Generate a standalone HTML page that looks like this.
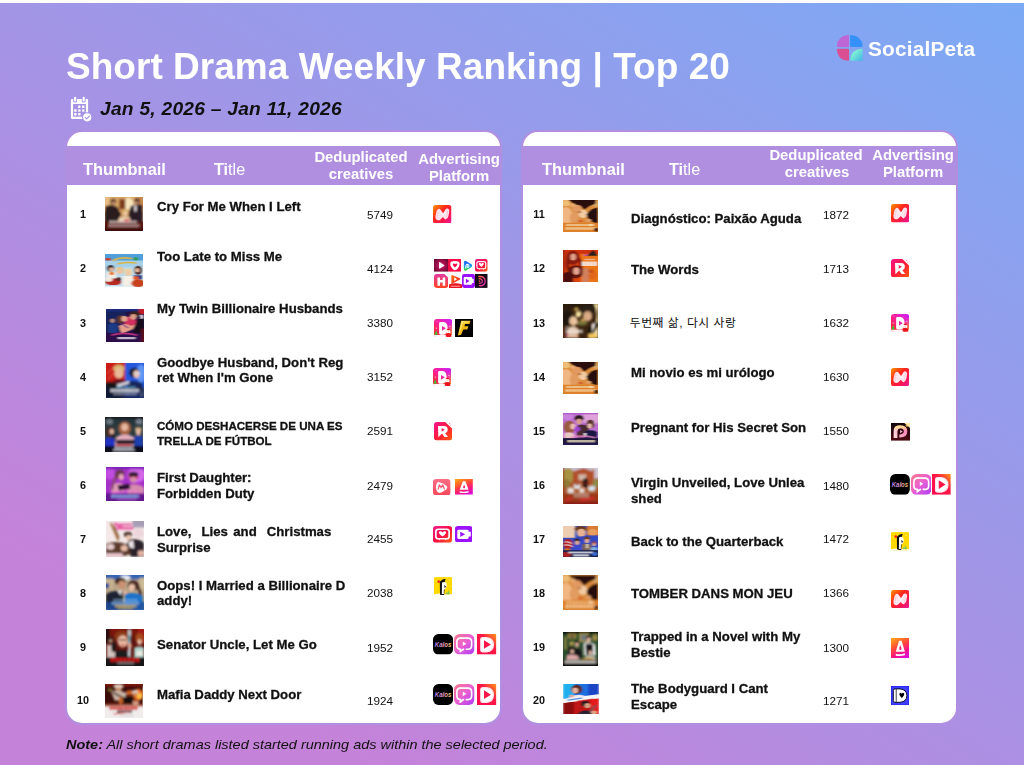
<!DOCTYPE html>
<html lang="en"><head><meta charset="utf-8"><title>Short Drama Weekly Ranking | Top 20</title>
<style>
html,body{margin:0;padding:0;}
body{width:1024px;height:765px;overflow:hidden;background:#fff;font-family:"Liberation Sans",sans-serif;}
#pg{position:absolute;left:0;top:0;width:1024px;height:765px;overflow:hidden;
 background:linear-gradient(31deg,#c582d9 16%,#7baaf5 100%);}
#topline{position:absolute;left:0;top:0;width:1024px;height:3px;background:#fff;}
.t{position:absolute;white-space:nowrap;font-family:"Liberation Sans",sans-serif;will-change:transform;}
.b{font-weight:700;} .i{font-style:italic;} .bi{font-weight:700;font-style:italic;}
.w{color:#fff;} .k{color:#111;}
.ts{-webkit-text-stroke:0.35px #fff;}
.hv{-webkit-text-stroke:0.3px #111;}
.card{position:absolute;top:130.2px;width:432.4px;height:590.4px;border:2.5px solid #b08fe1;border-radius:17px;background:#fff;overflow:hidden;}
.band{position:absolute;left:0;top:13.6px;width:100%;height:39.5px;background:#b08fe1;}
.th{position:absolute;overflow:hidden;}
.th svg{display:block;width:100%;height:100%;}
.ic{position:absolute;overflow:hidden;}
.ic svg{display:block;width:100%;height:100%;}
</style></head><body>
<div id="pg">
<div id="topline"></div>
<div class="t b w" style="left:66.20px;top:48.17px;font-size:37.0px;line-height:37.0px;letter-spacing:0.03px;">Short Drama Weekly Ranking | Top 20</div>
<div class="t bi k" style="left:100.00px;top:99.24px;font-size:19.2px;line-height:19.2px;letter-spacing:0.25px;">Jan 5, 2026 &ndash; Jan 11, 2026</div>
<div class="t b w" style="left:868.40px;top:38.69px;font-size:20.8px;line-height:20.8px;letter-spacing:0.2px;">SocialPeta</div>
<div class="t i k" style="left:66.40px;top:738.70px;font-size:12.4px;line-height:12.4px;transform-origin:0 50%;transform:scaleX(1.167);"><b>Note:</b> All short dramas listed started running ads within the selected period.</div>
<div class="card" style="left:65.4px;"><div class="band"></div></div>
<div class="card" style="left:521.3px;"><div class="band"></div></div>
<div class="t b w" style="left:83.10px;top:160.51px;font-size:16.4px;line-height:16.4px;">Thumbnail</div>
<div class="t w" style="left:213.60px;top:161.08px;font-size:16.2px;line-height:16.2px;"><b>Ti</b>tle</div>
<div class="t b w c" style="left:260.70px;top:150.03px;font-size:14.85px;line-height:14.85px;width:200px;text-align:center;">Deduplicated</div>
<div class="t b w c" style="left:261.00px;top:166.83px;font-size:14.85px;line-height:14.85px;width:200px;text-align:center;">creatives</div>
<div class="t b w c" style="left:358.50px;top:152.43px;font-size:14.85px;line-height:14.85px;width:200px;text-align:center;">Advertising</div>
<div class="t b w c" style="left:358.60px;top:169.43px;font-size:14.85px;line-height:14.85px;width:200px;text-align:center;">Platform</div>
<div class="t b w" style="left:542.00px;top:160.51px;font-size:16.4px;line-height:16.4px;">Thumbnail</div>
<div class="t w" style="left:669.30px;top:161.08px;font-size:16.2px;line-height:16.2px;"><b>Ti</b>tle</div>
<div class="t b w c" style="left:716.20px;top:147.93px;font-size:14.85px;line-height:14.85px;width:200px;text-align:center;">Deduplicated</div>
<div class="t b w c" style="left:716.50px;top:165.43px;font-size:14.85px;line-height:14.85px;width:200px;text-align:center;">creatives</div>
<div class="t b w c" style="left:812.70px;top:147.93px;font-size:14.85px;line-height:14.85px;width:200px;text-align:center;">Advertising</div>
<div class="t b w c" style="left:812.80px;top:165.43px;font-size:14.85px;line-height:14.85px;width:200px;text-align:center;">Platform</div>
<div class="t b k c" style="left:62.60px;top:208.86px;font-size:10.8px;line-height:10.8px;width:40px;text-align:center;">1</div>
<div class="th" id="th1" style="left:105.4px;top:197.1px;width:37.60px;height:34.30px;"><svg viewBox="0 0 100 100" preserveAspectRatio="none"><rect width="100" height="100" fill="#b8824e"/><g filter="url(#tb)"><rect x="-12" y="-12" width="124" height="52" fill="#d9a667"/><ellipse cx="62" cy="20" rx="14" ry="18" fill="#f7e4bc"/><rect x="38" y="6" width="16" height="30" fill="#7c3b1d"/><rect x="-12" y="-12" width="24" height="42" fill="#e8bd84"/><rect x="86" y="-12" width="26" height="42" fill="#c98a52"/><path d="M0 28 Q14 18 34 30 L42 52 L30 78 L0 80Z" fill="#2a1a1b"/><ellipse cx="22" cy="14" rx="8" ry="9" fill="#5b3a2b"/><ellipse cx="23" cy="18" rx="5" ry="5" fill="#c79675"/><path d="M100 24 Q84 16 68 28 L62 50 L72 80 L100 80Z" fill="#2b1c27"/><ellipse cx="85" cy="12" rx="7" ry="8" fill="#3a241e"/><ellipse cx="84" cy="17" rx="4.5" ry="5" fill="#c4906e"/><rect x="78" y="24" width="6" height="18" fill="#ece6e6"/><ellipse cx="54" cy="46" rx="9" ry="11" fill="#dcae6b"/><ellipse cx="54" cy="48" rx="5" ry="6" fill="#f0cfae"/><ellipse cx="52" cy="66" rx="16" ry="9" fill="#eccfb2"/><rect x="-12" y="72" width="124" height="40" fill="#56130f"/><ellipse cx="58" cy="70" rx="8" ry="5" fill="#c01822"/><path d="M12 72.5 H86" stroke="#f3e8e6" stroke-width="7" stroke-dasharray="7 2" opacity="0.8" fill="none"/><path d="M10 83.5 H92" stroke="#ecdedc" stroke-width="7" stroke-dasharray="6 2" opacity="0.75" fill="none"/><rect x="-12" y="92" width="124" height="20" fill="#3c0d0b"/></g></svg></div>
<div class="t b k hv" style="left:156.60px;top:198.97px;font-size:13.2px;line-height:15.5px;">Cry For Me When I Left</div>
<div class="t k c" style="left:350.40px;top:209.09px;font-size:11.7px;line-height:11.7px;width:60px;text-align:center;">5749</div>
<div class="t b k c" style="left:62.60px;top:263.11px;font-size:10.8px;line-height:10.8px;width:40px;text-align:center;">2</div>
<div class="th" id="th2" style="left:105.4px;top:254.4px;width:37.60px;height:32.40px;"><svg viewBox="0 0 100 100" preserveAspectRatio="none"><rect width="100" height="100" fill="#bcd9ea"/><g filter="url(#tb)"><rect x="-12" y="-12" width="124" height="34" fill="#4f9fda"/><rect x="-12" y="20" width="124" height="20" fill="#a6d1ea"/><ellipse cx="8" cy="16" rx="9" ry="4" fill="#c53b23"/><ellipse cx="82" cy="15" rx="7" ry="5" fill="#2f9a3c"/><path d="M22 20 Q40 8 70 14 M34 30 Q60 24 82 28" fill="none" stroke="#d8b443" stroke-width="5" stroke-linecap="round"/><ellipse cx="15" cy="44" rx="9" ry="10" fill="#3c2a26"/><ellipse cx="17" cy="48" rx="6" ry="7" fill="#e6b79a"/><rect x="4" y="56" width="26" height="18" fill="#f3ece4"/><ellipse cx="18" cy="60" rx="7" ry="5" fill="#e57c2c"/><ellipse cx="40" cy="50" rx="10" ry="11" fill="#e6c58c"/><ellipse cx="40" cy="53" rx="6.5" ry="7" fill="#eec3a4"/><ellipse cx="62" cy="56" rx="10" ry="11" fill="#ecd4a0"/><ellipse cx="62" cy="59" rx="6" ry="7" fill="#f0c6aa"/><rect x="46" y="68" width="40" height="30" fill="#f6efe6"/><ellipse cx="88" cy="50" rx="10" ry="14" fill="#4b2a22"/><ellipse cx="86" cy="50" rx="5.5" ry="7" fill="#e8b89e"/><rect x="76" y="66" width="22" height="12" fill="#1d2f7a"/><ellipse cx="22" cy="86" rx="22" ry="10" fill="#b82a22"/><ellipse cx="10" cy="78" rx="10" ry="8" fill="#f1e8e0"/><ellipse cx="36" cy="78" rx="7" ry="6" fill="#5a2a22"/><ellipse cx="88" cy="90" rx="18" ry="12" fill="#c7421e"/><ellipse cx="82" cy="74" rx="8" ry="6" fill="#e2562a"/></g></svg></div>
<div class="t b k hv" style="left:156.60px;top:249.42px;font-size:13.2px;line-height:15.5px;">Too Late to Miss Me</div>
<div class="t k c" style="left:350.40px;top:262.69px;font-size:11.7px;line-height:11.7px;width:60px;text-align:center;">4124</div>
<div class="t b k c" style="left:62.60px;top:317.61px;font-size:10.8px;line-height:10.8px;width:40px;text-align:center;">3</div>
<div class="th" id="th3" style="left:105.8px;top:309.1px;width:38.00px;height:32.50px;"><svg viewBox="0 0 100 100" preserveAspectRatio="none"><rect width="100" height="100" fill="#241046"/><g filter="url(#tb)"><rect x="-12" y="-12" width="64" height="82" fill="#19235c"/><rect x="-12" y="-12" width="124" height="20" fill="#1a2a78"/><rect x="86" y="-12" width="26" height="28" fill="#c21d2a"/><ellipse cx="17" cy="36" rx="6" ry="7" fill="#b98a7a"/><path d="M6 48 Q18 40 30 48 V78 H6Z" fill="#1f3a86"/><ellipse cx="64" cy="42" rx="16" ry="20" fill="#d2315f"/><ellipse cx="38" cy="32" rx="10" ry="13" fill="#5c342c"/><ellipse cx="48" cy="30" rx="8" ry="9" fill="#e3a68d"/><path d="M34 52 Q50 40 66 52 L84 44 L88 52 L60 68 L40 76 Z" fill="#e59f88"/><path d="M40 44 L58 58" fill="none" stroke="#6a2a8a" stroke-width="3" stroke-linecap="round"/><ellipse cx="76" cy="16" rx="15" ry="9" fill="#3b2320"/><ellipse cx="72" cy="24" rx="9" ry="9" fill="#dc9c84"/><path d="M100 22 L84 30 L72 60 L76 92 L100 92Z" fill="#17111a"/><rect x="90" y="18" width="8" height="12" fill="#e9e4ea"/><rect x="-12" y="74" width="124" height="38" fill="#2a0f48"/><rect x="92" y="60" width="20" height="52" fill="#5a0f1c"/><path d="M16 80 Q46 70 80 80" fill="none" stroke="#d83a8a" stroke-width="5" stroke-linecap="round" opacity="0.8"/><path d="M32 89.5 H78" stroke="#f2edf6" stroke-width="7" stroke-dasharray="6 1.5" opacity="0.9" fill="none"/></g></svg></div>
<div class="t b k hv" style="left:156.60px;top:301.17px;font-size:13.2px;line-height:15.5px;">My Twin Billionaire Husbands</div>
<div class="t k c" style="left:350.40px;top:316.89px;font-size:11.7px;line-height:11.7px;width:60px;text-align:center;">3380</div>
<div class="t b k c" style="left:62.60px;top:371.61px;font-size:10.8px;line-height:10.8px;width:40px;text-align:center;">4</div>
<div class="th" id="th4" style="left:105.7px;top:362.9px;width:38.10px;height:34.80px;"><svg viewBox="0 0 100 100" preserveAspectRatio="none"><rect width="100" height="100" fill="#1c2a58"/><g filter="url(#tb)"><rect x="-12" y="-12" width="62" height="70" fill="#c81b14"/><rect x="50" y="-12" width="62" height="124" fill="#2858de"/><ellipse cx="92" cy="30" rx="12" ry="26" fill="#5f95f4"/><ellipse cx="95" cy="84" rx="10" ry="14" fill="#bcd4fa"/><path d="M4 30 L22 10 M6 46 L20 30" fill="none" stroke="#ec6a5c" stroke-width="3" stroke-linecap="round" opacity="0.7"/><ellipse cx="34" cy="16" rx="15" ry="11" fill="#dab673"/><ellipse cx="34" cy="30" rx="12" ry="14" fill="#e9b997"/><path d="M18 52 Q34 42 54 52 V66 H18Z" fill="#5c1422"/><path d="M0 56 Q14 50 26 60 L40 100 H0Z" fill="#151517"/><ellipse cx="74" cy="28" rx="13" ry="14" fill="#191921"/><ellipse cx="80" cy="32" rx="8" ry="11" fill="#ebc3b3"/><rect x="72" y="27" width="18" height="4" fill="#dfe9f6" opacity="0.7"/><path d="M56 54 Q76 46 96 58 V84 H56Z" fill="#17285c"/><path d="M28 62 L60 52 L62 58 L32 70Z" fill="#d9dde6"/><rect x="-12" y="70" width="124" height="42" fill="#101a3e" opacity="0.75"/><path d="M12 79.0 H88" stroke="#eef0f6" stroke-width="8" stroke-dasharray="6 1.5" opacity="0.9" fill="none"/><path d="M20 88.5 H80" stroke="#cfd6ea" stroke-width="5" stroke-dasharray="5 2" opacity="0.75" fill="none"/><rect x="26" y="68" width="52" height="4" fill="#7ad1e6" opacity="0.7"/></g></svg></div>
<div class="t b k hv" style="left:156.60px;top:354.55px;font-size:13.2px;line-height:15.25px;">Goodbye Husband, Don't Reg<br>ret When I'm Gone</div>
<div class="t k c" style="left:350.40px;top:371.19px;font-size:11.7px;line-height:11.7px;width:60px;text-align:center;">3152</div>
<div class="t b k c" style="left:62.60px;top:425.86px;font-size:10.8px;line-height:10.8px;width:40px;text-align:center;">5</div>
<div class="th" id="th5" style="left:105.1px;top:417.2px;width:37.90px;height:34.40px;"><svg viewBox="0 0 100 100" preserveAspectRatio="none"><rect width="100" height="100" fill="#2b3a40"/><g filter="url(#tb)"><rect x="-12" y="-12" width="124" height="34" fill="#27343a"/><ellipse cx="12" cy="14" rx="9" ry="8" fill="#8b97a0" opacity="0.7"/><ellipse cx="90" cy="14" rx="9" ry="8" fill="#9aa0b0" opacity="0.7"/><rect x="-12" y="-12" width="124" height="17" fill="#10161a"/><ellipse cx="52" cy="34" rx="17" ry="20" fill="#a35f3d"/><ellipse cx="52" cy="30" rx="9" ry="11" fill="#e7b79f"/><path d="M30 58 Q52 44 76 58 L84 84 H26Z" fill="#e6b0c0"/><ellipse cx="14" cy="44" rx="12" ry="16" fill="#4a2a22"/><ellipse cx="18" cy="42" rx="6" ry="8" fill="#dfae98"/><path d="M0 62 Q12 56 26 64 V84 H0Z" fill="#2130c4"/><ellipse cx="22" cy="54" rx="6" ry="4" fill="#14141c"/><ellipse cx="88" cy="36" rx="9" ry="7" fill="#c9a777"/><ellipse cx="88" cy="44" rx="7" ry="9" fill="#e2b69e"/><path d="M76 58 Q88 50 100 58 V86 H76Z" fill="#1f3fb0"/><rect x="30" y="66" width="48" height="13" fill="#17171b" rx="2"/><rect x="-12" y="84" width="124" height="28" fill="#0e0f1f"/><rect x="30" y="80" width="40" height="4" fill="#e03a4a" opacity="0.8"/><path d="M26 89.5 H74" stroke="#eceff4" stroke-width="5" stroke-dasharray="6 1.5" opacity="0.92" fill="none"/><path d="M22 96.5 H78" stroke="#e4e7ee" stroke-width="5" stroke-dasharray="6 1.5" opacity="0.9" fill="none"/></g></svg></div>
<div class="t b k hv" style="left:156.60px;top:419.24px;font-size:11.58px;line-height:14.5px;">CÓMO DESHACERSE DE UNA ES<br>TRELLA DE FÚTBOL</div>
<div class="t k c" style="left:350.40px;top:425.39px;font-size:11.7px;line-height:11.7px;width:60px;text-align:center;">2591</div>
<div class="t b k c" style="left:62.60px;top:480.11px;font-size:10.8px;line-height:10.8px;width:40px;text-align:center;">6</div>
<div class="th" id="th6" style="left:105.7px;top:466.9px;width:38.10px;height:33.80px;"><svg viewBox="0 0 100 100" preserveAspectRatio="none"><rect width="100" height="100" fill="#a432c8"/><g filter="url(#tb)"><ellipse cx="80" cy="24" rx="24" ry="22" fill="#d467ea"/><ellipse cx="10" cy="20" rx="14" ry="18" fill="#c04ee0"/><rect x="-12" y="-12" width="124" height="18" fill="#7a22b8"/><ellipse cx="36" cy="22" rx="13" ry="14" fill="#68374e"/><ellipse cx="40" cy="30" rx="7" ry="9" fill="#e8a2ba"/><path d="M12 62 Q26 40 44 50 L48 74 H14Z" fill="#df9cb8"/><path d="M24 30 Q18 50 16 66" fill="none" stroke="#8b4a6a" stroke-width="6" stroke-linecap="round"/><ellipse cx="72" cy="22" rx="13" ry="8" fill="#2e1a2e"/><rect x="60" y="28" width="24" height="6" fill="#b3182f"/><ellipse cx="72" cy="38" rx="9" ry="9" fill="#d890aa"/><path d="M56 56 Q78 44 100 60 V80 H56Z" fill="#d58cae"/><path d="M30 54 L62 50 L64 64 L34 70Z" fill="#2b1032"/><rect x="-12" y="78" width="124" height="34" fill="#64188f"/><path d="M18 76 Q50 68 90 74" fill="none" stroke="#f07ad0" stroke-width="5" stroke-linecap="round" opacity="0.85"/><path d="M14 86.5 H86" stroke="#86b4ea" stroke-width="9" stroke-dasharray="7 1.5" opacity="0.92" fill="none"/><rect x="30" y="94" width="50" height="4" fill="#b86ad6" opacity="0.8"/></g></svg></div>
<div class="t b k hv" style="left:156.60px;top:470.05px;font-size:13.2px;line-height:15.75px;">First Daughter:<br>Forbidden Duty</div>
<div class="t k c" style="left:350.40px;top:479.79px;font-size:11.7px;line-height:11.7px;width:60px;text-align:center;">2479</div>
<div class="t b k c" style="left:62.60px;top:533.61px;font-size:10.8px;line-height:10.8px;width:40px;text-align:center;">7</div>
<div class="th" id="th7" style="left:105.9px;top:520.9px;width:37.90px;height:35.80px;"><svg viewBox="0 0 100 100" preserveAspectRatio="none"><rect width="100" height="100" fill="#f4e9e8"/><g filter="url(#tb)"><rect x="70" y="-12" width="42" height="30" fill="#a79db5"/><ellipse cx="86" cy="34" rx="14" ry="14" fill="#ecd5dc"/><path d="M24 8 L40 16 M30 20 L70 20" fill="none" stroke="#e85aa2" stroke-width="7" stroke-linecap="round"/><path d="M26 10 H66" fill="none" stroke="#ea62a8" stroke-width="6" stroke-linecap="round"/><path d="M14 8 L32 52" fill="none" stroke="#a57448" stroke-width="6" stroke-linecap="round"/><path d="M22 14 L34 46" fill="none" stroke="#7b4c2c" stroke-width="3" stroke-linecap="round"/><ellipse cx="58" cy="38" rx="11" ry="8" fill="#4a3029"/><ellipse cx="60" cy="47" rx="7" ry="8" fill="#efc7b2"/><path d="M62 52 Q86 46 100 62 V100 H66 L52 70Z" fill="#29242a"/><path d="M60 58 L72 54 L74 76 L62 74Z" fill="#f1e7ea"/><path d="M0 64 Q30 52 56 66 L66 92 L40 100 H0Z" fill="#5b3a2a"/><ellipse cx="48" cy="76" rx="9" ry="8" fill="#e9bda8"/><ellipse cx="12" cy="72" rx="10" ry="8" fill="#e8cfd0"/><rect x="-12" y="90" width="56" height="22" fill="#e9c9cf"/><ellipse cx="92" cy="90" rx="8" ry="8" fill="#e6b5a5"/></g></svg></div>
<div class="t b k hv" style="left:156.60px;top:523.67px;font-size:13.2px;line-height:15.5px;">Love,<span style="margin-left:6.4px"> </span>Lies<span style="margin-left:1.7px"> </span>and<span style="margin-left:6.4px"> </span>Christmas<br>Surprise</div>
<div class="t k c" style="left:350.40px;top:533.29px;font-size:11.7px;line-height:11.7px;width:60px;text-align:center;">2455</div>
<div class="t b k c" style="left:62.60px;top:587.86px;font-size:10.8px;line-height:10.8px;width:40px;text-align:center;">8</div>
<div class="th" id="th8" style="left:105.6px;top:575.1px;width:38.10px;height:34.60px;"><svg viewBox="0 0 100 100" preserveAspectRatio="none"><rect width="100" height="100" fill="#b9a487"/><g filter="url(#tb)"><rect x="-12" y="-12" width="124" height="24" fill="#3563b4"/><ellipse cx="50" cy="8" rx="14" ry="7" fill="#e9eef6"/><rect x="-12" y="10" width="30" height="30" fill="#c9b590"/><rect x="-12" y="24" width="20" height="14" fill="#2a4a9a"/><rect x="88" y="8" width="24" height="34" fill="#cdbb96"/><ellipse cx="38" cy="18" rx="14" ry="11" fill="#3a2519"/><ellipse cx="42" cy="28" rx="10" ry="12" fill="#c99273"/><path d="M0 56 Q20 40 44 50 L46 100 H0Z" fill="#1a2030"/><path d="M30 46 L40 44 L40 60Z" fill="#e9ecf2"/><ellipse cx="72" cy="30" rx="15" ry="15" fill="#4b2b21"/><ellipse cx="68" cy="36" rx="8" ry="10" fill="#ebc3ab"/><path d="M84 30 Q92 50 90 70" fill="none" stroke="#4a2a20" stroke-width="7" stroke-linecap="round"/><path d="M50 56 Q74 46 96 60 V100 H50Z" fill="#1a72ca"/><ellipse cx="50" cy="50" rx="5" ry="5" fill="#e2b39a"/><rect x="-12" y="78" width="124" height="34" fill="#1a4e9f" opacity="0.8"/><path d="M20 73.0 H84" stroke="#8fc0ee" stroke-width="6" stroke-dasharray="5 2" opacity="0.8" fill="none"/><path d="M16 82.0 H86" stroke="#a9cef2" stroke-width="6" stroke-dasharray="6 2" opacity="0.85" fill="none"/><path d="M24 90.0 H80" stroke="#dab657" stroke-width="6" stroke-dasharray="6 1.5" opacity="0.95" fill="none"/><path d="M32 96.5 H72" stroke="#d2ad4e" stroke-width="5" stroke-dasharray="5 1.5" opacity="0.9" fill="none"/></g></svg></div>
<div class="t b k hv" style="left:156.60px;top:578.17px;font-size:13.2px;line-height:15.0px;">Oops! I Married a Billionaire D<br>addy!</div>
<div class="t k c" style="left:350.40px;top:587.49px;font-size:11.7px;line-height:11.7px;width:60px;text-align:center;">2038</div>
<div class="t b k c" style="left:62.60px;top:641.86px;font-size:10.8px;line-height:10.8px;width:40px;text-align:center;">9</div>
<div class="th" id="th9" style="left:105.7px;top:629.4px;width:38.10px;height:36.30px;"><svg viewBox="0 0 100 100" preserveAspectRatio="none"><rect width="100" height="100" fill="#5e130f"/><g filter="url(#tb)"><rect x="-12" y="-12" width="124" height="32" fill="#7a1611"/><rect x="84" y="-12" width="28" height="52" fill="#a11a14"/><rect x="-12" y="-12" width="22" height="52" fill="#2a0a0a"/><ellipse cx="12" cy="30" rx="7" ry="8" fill="#3b2620"/><ellipse cx="12" cy="33" rx="4" ry="5" fill="#c49880"/><rect x="2" y="44" width="22" height="40" fill="#e9e1dc" opacity="0.85"/><ellipse cx="20" cy="50" rx="6" ry="14" fill="#1c1616"/><ellipse cx="42" cy="22" rx="20" ry="18" fill="#8b3a18"/><ellipse cx="44" cy="34" rx="13" ry="17" fill="#e9bba3"/><rect x="34" y="28" width="20" height="4" fill="#4a2a2a" opacity="0.7"/><ellipse cx="44" cy="44" rx="5" ry="2" fill="#b82a2a"/><path d="M24 62 Q44 54 62 64 V82 H24Z" fill="#1f1a1c"/><rect x="58" y="2" width="7" height="74" fill="#c9d3d8"/><rect x="59" y="18" width="5" height="18" fill="#2e8a90"/><ellipse cx="62" cy="46" rx="6" ry="7" fill="#d7a78f"/><ellipse cx="88" cy="26" rx="11" ry="14" fill="#a44c1b"/><ellipse cx="88" cy="36" rx="6" ry="8" fill="#e6b8a0"/><path d="M74 52 Q88 44 100 52 V80 H74Z" fill="#abd3cb"/><rect x="80" y="60" width="16" height="14" fill="#ece8e0"/><rect x="-12" y="78" width="124" height="34" fill="#181212"/><path d="M12 85.0 H88" stroke="#df1a1a" stroke-width="10" stroke-dasharray="9 2" opacity="0.95" fill="none"/><path d="M30 94.0 H74" stroke="#efe9e9" stroke-width="4" stroke-dasharray="4 1.5" opacity="0.85" fill="none"/></g></svg></div>
<div class="t b k hv" style="left:156.60px;top:637.42px;font-size:13.2px;line-height:15.5px;">Senator Uncle, Let Me Go</div>
<div class="t k c" style="left:350.40px;top:642.09px;font-size:11.7px;line-height:11.7px;width:60px;text-align:center;">1952</div>
<div class="t b k c" style="left:62.60px;top:695.36px;font-size:10.8px;line-height:10.8px;width:40px;text-align:center;">10</div>
<div class="th" id="th10" style="left:105.4px;top:684.2px;width:37.60px;height:33.40px;"><svg viewBox="0 0 100 100" preserveAspectRatio="none"><rect width="100" height="100" fill="#3a0d09"/><g filter="url(#tb)"><rect x="-12" y="-12" width="124" height="20" fill="#7a120c"/><ellipse cx="88" cy="32" rx="14" ry="18" fill="#e96d1b"/><ellipse cx="92" cy="36" rx="7" ry="9" fill="#f9c24c"/><ellipse cx="66" cy="26" rx="10" ry="8" fill="#c65a1c"/><ellipse cx="14" cy="18" rx="8" ry="5" fill="#8a8a30" opacity="0.7"/><ellipse cx="36" cy="8" rx="12" ry="6" fill="#ecdccb"/><ellipse cx="36" cy="17" rx="8" ry="7" fill="#c58a66"/><path d="M16 24 Q36 14 58 28 L52 48 L26 50Z" fill="#c9b4a4"/><path d="M22 26 L46 40" fill="none" stroke="#3a2a26" stroke-width="5" stroke-linecap="round"/><ellipse cx="80" cy="24" rx="8" ry="6" fill="#e7d8c9"/><ellipse cx="80" cy="30" rx="6" ry="5" fill="#c99070"/><rect x="40" y="40" width="40" height="22" fill="#161011" rx="4"/><ellipse cx="42" cy="50" rx="6" ry="12" fill="#e2762a" opacity="0.8"/><ellipse cx="82" cy="56" rx="8" ry="9" fill="#e9cbb8"/><ellipse cx="82" cy="50" rx="8" ry="5" fill="#b3542a"/><rect x="-12" y="64" width="124" height="48" fill="#f1eded"/><rect x="-12" y="58" width="124" height="10" fill="#b64a2a" opacity="0.55"/><path d="M12 72.5 H88" stroke="#d01a1a" stroke-width="9" stroke-dasharray="8 1.5" opacity="0.95" fill="none"/><path d="M32 82.5 H72" stroke="#1b1516" stroke-width="7" stroke-dasharray="7 1.5" opacity="0.95" fill="none"/><path d="M24 90 L66 84" fill="none" stroke="#d22020" stroke-width="3" stroke-linecap="round"/><rect x="38" y="93" width="38" height="2" fill="#8a8486" opacity="0.6"/></g></svg></div>
<div class="t b k hv" style="left:156.60px;top:687.17px;font-size:13.2px;line-height:15.5px;">Mafia Daddy Next Door</div>
<div class="t k c" style="left:350.40px;top:695.49px;font-size:11.7px;line-height:11.7px;width:60px;text-align:center;">1924</div>
<div class="t b k c" style="left:518.50px;top:208.86px;font-size:10.8px;line-height:10.8px;width:40px;text-align:center;">11</div>
<div class="th" id="th11" style="left:563.1px;top:200.3px;width:35.10px;height:31.60px;"><svg viewBox="0 0 100 100" preserveAspectRatio="none"><rect width="100" height="100" fill="#d98a3a"/><g filter="url(#tb)"><rect x="-12" y="-12" width="124" height="124" fill="#dc8d3c"/><ellipse cx="8" cy="10" rx="12" ry="10" fill="#eebd76"/><ellipse cx="8" cy="52" rx="20" ry="30" fill="#f0b783"/><ellipse cx="94" cy="12" rx="10" ry="10" fill="#d9a766"/><path d="M16 0 H94 L92 12 Q74 18 62 30 Q50 20 36 16 Q24 8 16 0Z" fill="#2a1009"/><ellipse cx="40" cy="27" rx="14" ry="12" fill="#e39a62"/><ellipse cx="28" cy="16" rx="8" ry="6" fill="#e9aa70"/><ellipse cx="57" cy="44" rx="13" ry="13" fill="#f2cba2"/><ellipse cx="47" cy="38" rx="6" ry="4" fill="#bf7f4d"/><ellipse cx="32" cy="56" rx="13" ry="19" fill="#e29b60"/><path d="M100 24 Q78 26 67 46 Q69 62 84 70 L100 76Z" fill="#26110b"/><ellipse cx="73" cy="64" rx="8" ry="5" fill="#e2a070"/><rect x="-12" y="72" width="124" height="40" fill="#dd8129"/><path d="M10 79.0 H90" stroke="#fbe8c2" stroke-width="6" stroke-dasharray="6 3" opacity="0.8" fill="none"/><path d="M8 90.0 H94" stroke="#fbe4b6" stroke-width="8" stroke-dasharray="7 3" opacity="0.85" fill="none"/><rect x="44" y="65" width="12" height="3" fill="#d22a2a"/><ellipse cx="95" cy="94" rx="6" ry="6" fill="#331710"/><ellipse cx="78" cy="79" rx="4" ry="4" fill="#fff0c8" opacity="0.8"/></g></svg></div>
<div class="t b k hv" style="left:630.80px;top:210.67px;font-size:13.2px;line-height:15.5px;">Diagnóstico: Paixão Aguda</div>
<div class="t k c" style="left:806.40px;top:209.09px;font-size:11.7px;line-height:11.7px;width:60px;text-align:center;">1872</div>
<div class="t b k c" style="left:518.50px;top:263.11px;font-size:10.8px;line-height:10.8px;width:40px;text-align:center;">12</div>
<div class="th" id="th12" style="left:563.1px;top:249.8px;width:35.10px;height:32.00px;"><svg viewBox="0 0 100 100" preserveAspectRatio="none"><rect width="100" height="100" fill="#d9430f"/><g filter="url(#tb)"><rect x="50" y="-12" width="62" height="124" fill="#ea7419"/><rect x="-12" y="-12" width="124" height="24" fill="#cf3108"/><rect x="-12" y="-12" width="18" height="124" fill="#a9260a"/><ellipse cx="28" cy="24" rx="19" ry="22" fill="#8a1b10"/><ellipse cx="29" cy="22" rx="8" ry="11" fill="#e3a088"/><path d="M14 30 Q10 52 18 64 M46 28 Q54 44 50 60" fill="none" stroke="#84190f" stroke-width="9" stroke-linecap="round"/><ellipse cx="36" cy="68" rx="23" ry="20" fill="#65130f"/><ellipse cx="38" cy="66" rx="9" ry="12" fill="#e5a58f"/><path d="M0 74 Q16 62 28 76 V100 H0Z" fill="#4a0e0e"/><path d="M56 58 Q70 50 76 66 L72 100 H54Z" fill="#d0805f"/><path d="M72 14 L86 0 L100 18 L66 18Z" fill="#2a1a18"/><rect x="60" y="14" width="10" height="4" fill="#c23ad0"/><path d="M54 43.0 H98" stroke="#f8f2ef" stroke-width="14" stroke-dasharray="9 2" opacity="0.95" fill="none"/><path d="M62 29.5 H92" stroke="#f3e3d8" stroke-width="5" stroke-dasharray="5 2" opacity="0.75" fill="none"/><ellipse cx="84" cy="80" rx="12" ry="12" fill="#e0661a"/><ellipse cx="80" cy="66" rx="8" ry="6" fill="#c9551a"/></g></svg></div>
<div class="t b k hv" style="left:630.80px;top:262.42px;font-size:13.2px;line-height:15.5px;">The Words</div>
<div class="t k c" style="left:806.40px;top:262.69px;font-size:11.7px;line-height:11.7px;width:60px;text-align:center;">1713</div>
<div class="t b k c" style="left:518.50px;top:317.61px;font-size:10.8px;line-height:10.8px;width:40px;text-align:center;">13</div>
<div class="th" id="th13" style="left:563.1px;top:303.9px;width:35.10px;height:34.00px;"><svg viewBox="0 0 100 100" preserveAspectRatio="none"><rect width="100" height="100" fill="#3b2511"/><g filter="url(#tb)"><rect x="-12" y="-12" width="124" height="26" fill="#2c1a0c"/><ellipse cx="44" cy="30" rx="8" ry="9" fill="#f5e2a0"/><ellipse cx="38" cy="16" rx="5" ry="5" fill="#e6c160" opacity="0.8"/><ellipse cx="54" cy="56" rx="16" ry="7" fill="#77733a"/><ellipse cx="56" cy="47" rx="7" ry="4" fill="#c79a4a"/><ellipse cx="12" cy="40" rx="16" ry="24" fill="#1f140f"/><ellipse cx="30" cy="50" rx="12" ry="14" fill="#e9c29b"/><path d="M16 70 Q30 60 44 72 V100 H10Z" fill="#d9b090"/><ellipse cx="70" cy="18" rx="22" ry="14" fill="#2a2018"/><ellipse cx="70" cy="36" rx="13" ry="15" fill="#d9aa83"/><path d="M100 50 L84 54 L70 78 L72 100 H100Z" fill="#16120f"/><path d="M82 58 L92 56 L84 86Z" fill="#efe6da"/><path d="M100 0 L88 0 Q100 20 94 50 L100 60Z" fill="#f4e4a4"/><path d="M100 100 H70 Q90 90 100 64Z" fill="#f9e6ad"/><ellipse cx="84" cy="94" rx="14" ry="8" fill="#f2c660"/><rect x="-12" y="68" width="20" height="44" fill="#5a2a14"/><path d="M10 70.5 H36" stroke="#f1ede6" stroke-width="5" stroke-dasharray="5 1.5" opacity="0.85" fill="none"/><path d="M10 80.5 H56" stroke="#f3efe8" stroke-width="9" stroke-dasharray="8 2" opacity="0.92" fill="none"/><path d="M10 90.5 H34" stroke="#e9dfd4" stroke-width="5" stroke-dasharray="5 1.5" opacity="0.75" fill="none"/><ellipse cx="12" cy="90" rx="3" ry="3" fill="#d63a8a"/></g></svg></div>
<div class="t k c" style="left:806.40px;top:316.89px;font-size:11.7px;line-height:11.7px;width:60px;text-align:center;">1632</div>
<div class="t b k c" style="left:518.50px;top:371.61px;font-size:10.8px;line-height:10.8px;width:40px;text-align:center;">14</div>
<div class="th" id="th14" style="left:563.1px;top:362.3px;width:35.10px;height:31.60px;"><svg viewBox="0 0 100 100" preserveAspectRatio="none"><rect width="100" height="100" fill="#d98a3a"/><g filter="url(#tb)"><rect x="-12" y="-12" width="124" height="124" fill="#dc8d3c"/><ellipse cx="8" cy="10" rx="12" ry="10" fill="#eebd76"/><ellipse cx="8" cy="52" rx="20" ry="30" fill="#f0b783"/><ellipse cx="94" cy="12" rx="10" ry="10" fill="#d9a766"/><path d="M16 0 H94 L92 12 Q74 18 62 30 Q50 20 36 16 Q24 8 16 0Z" fill="#2a1009"/><ellipse cx="40" cy="27" rx="14" ry="12" fill="#e39a62"/><ellipse cx="28" cy="16" rx="8" ry="6" fill="#e9aa70"/><ellipse cx="57" cy="44" rx="13" ry="13" fill="#f2cba2"/><ellipse cx="47" cy="38" rx="6" ry="4" fill="#bf7f4d"/><ellipse cx="32" cy="56" rx="13" ry="19" fill="#e29b60"/><path d="M100 24 Q78 26 67 46 Q69 62 84 70 L100 76Z" fill="#26110b"/><ellipse cx="73" cy="64" rx="8" ry="5" fill="#e2a070"/><rect x="-12" y="72" width="124" height="40" fill="#dd8129"/><path d="M10 79.0 H90" stroke="#fbe8c2" stroke-width="6" stroke-dasharray="6 3" opacity="0.8" fill="none"/><path d="M8 90.0 H94" stroke="#fbe4b6" stroke-width="8" stroke-dasharray="7 3" opacity="0.85" fill="none"/><rect x="44" y="65" width="12" height="3" fill="#d22a2a"/><ellipse cx="95" cy="94" rx="6" ry="6" fill="#331710"/><ellipse cx="78" cy="79" rx="4" ry="4" fill="#fff0c8" opacity="0.8"/></g></svg></div>
<div class="t b k hv" style="left:630.80px;top:365.17px;font-size:13.2px;line-height:15.5px;">Mi novio es mi urólogo</div>
<div class="t k c" style="left:806.40px;top:371.19px;font-size:11.7px;line-height:11.7px;width:60px;text-align:center;">1630</div>
<div class="t b k c" style="left:518.50px;top:425.86px;font-size:10.8px;line-height:10.8px;width:40px;text-align:center;">15</div>
<div class="th" id="th15" style="left:563.1px;top:412.9px;width:35.10px;height:32.20px;"><svg viewBox="0 0 100 100" preserveAspectRatio="none"><rect width="100" height="100" fill="#bd6fd0"/><g filter="url(#tb)"><ellipse cx="80" cy="16" rx="26" ry="20" fill="#dfa2da"/><ellipse cx="14" cy="10" rx="16" ry="12" fill="#c884dc"/><rect x="-12" y="-12" width="124" height="16" fill="#b05ac8"/><ellipse cx="18" cy="44" rx="16" ry="20" fill="#9b5a41"/><ellipse cx="28" cy="42" rx="7" ry="9" fill="#efc0b0"/><path d="M4 64 Q20 54 32 66 V80 H4Z" fill="#e9c7c2"/><ellipse cx="46" cy="16" rx="13" ry="9" fill="#2b1a22"/><ellipse cx="46" cy="26" rx="8" ry="9" fill="#dba08c"/><path d="M40 40 Q60 30 74 44 L72 76 L40 76Z" fill="#4a2b30"/><ellipse cx="78" cy="34" rx="11" ry="13" fill="#5a3029"/><ellipse cx="76" cy="40" rx="6" ry="8" fill="#efc3b4"/><path d="M62 58 Q84 48 98 60 L96 78 H62Z" fill="#1a1944"/><rect x="60" y="62" width="6" height="12" fill="#ece8f0"/><ellipse cx="40" cy="50" rx="9" ry="8" fill="#a046d2"/><rect x="-12" y="78" width="124" height="34" fill="#1a1439"/><path d="M24 76 Q50 68 90 76" fill="none" stroke="#e884c2" stroke-width="5" stroke-linecap="round" opacity="0.8"/><path d="M14 88.0 H92" stroke="#e9dcc0" stroke-width="8" stroke-dasharray="7 1.5" opacity="0.92" fill="none"/><rect x="-12" y="94" width="124" height="18" fill="#241a55"/></g></svg></div>
<div class="t b k hv" style="left:630.80px;top:420.17px;font-size:13.2px;line-height:15.5px;">Pregnant for His Secret Son</div>
<div class="t k c" style="left:806.40px;top:425.39px;font-size:11.7px;line-height:11.7px;width:60px;text-align:center;">1550</div>
<div class="t b k c" style="left:518.50px;top:480.11px;font-size:10.8px;line-height:10.8px;width:40px;text-align:center;">16</div>
<div class="th" id="th16" style="left:563.1px;top:468.4px;width:35.10px;height:35.30px;"><svg viewBox="0 0 100 100" preserveAspectRatio="none"><rect width="100" height="100" fill="#a85a30"/><g filter="url(#tb)"><rect x="-12" y="-12" width="124" height="22" fill="#c9c0cf"/><rect x="84" y="-12" width="28" height="42" fill="#cfc6d4"/><ellipse cx="14" cy="22" rx="18" ry="22" fill="#a89242"/><ellipse cx="10" cy="44" rx="10" ry="12" fill="#8d7a34"/><ellipse cx="92" cy="44" rx="10" ry="12" fill="#8e8a48"/><path d="M28 10 L58 0 L86 10 V46 H28Z" fill="#b0502a"/><rect x="44" y="18" width="22" height="16" fill="#d8cfc6" opacity="0.8"/><rect x="84" y="4" width="5" height="30" fill="#b4572f"/><ellipse cx="64" cy="42" rx="8" ry="14" fill="#1b1414"/><ellipse cx="64" cy="34" rx="5" ry="5" fill="#3a2622"/><ellipse cx="66" cy="44" rx="2.5" ry="2.5" fill="#c22a2a"/><ellipse cx="40" cy="52" rx="10" ry="8" fill="#dfe2ea"/><ellipse cx="82" cy="58" rx="11" ry="8" fill="#d5dde9"/><ellipse cx="22" cy="64" rx="10" ry="9" fill="#e4dcd8"/><ellipse cx="54" cy="64" rx="8" ry="7" fill="#e7d9d6"/><ellipse cx="40" cy="46" rx="5" ry="4" fill="#a45a3a"/><rect x="-12" y="72" width="124" height="40" fill="#9a3919"/><rect x="30" y="70" width="44" height="14" fill="#c9b4aa" opacity="0.55"/><path d="M10 92 Q20 80 24 88 M50 92 Q56 82 58 92 M62 90 Q78 84 90 86" fill="none" stroke="#e32334" stroke-width="4" stroke-linecap="round"/><rect x="-12" y="96" width="124" height="16" fill="#8a1a12"/><rect x="-12" y="-12" width="15" height="124" fill="#9a3a1a"/></g></svg></div>
<div class="t b k hv" style="left:630.80px;top:474.67px;font-size:13.2px;line-height:15.5px;">Virgin Unveiled, Love Unlea<br>shed</div>
<div class="t k c" style="left:806.40px;top:479.79px;font-size:11.7px;line-height:11.7px;width:60px;text-align:center;">1480</div>
<div class="t b k c" style="left:518.50px;top:533.61px;font-size:10.8px;line-height:10.8px;width:40px;text-align:center;">17</div>
<div class="th" id="th17" style="left:563.1px;top:525.8px;width:35.30px;height:31.00px;"><svg viewBox="0 0 100 100" preserveAspectRatio="none"><rect width="100" height="100" fill="#3a4cc0"/><g filter="url(#tb)"><rect x="-12" y="-12" width="46" height="50" fill="#edcdb0"/><rect x="68" y="-12" width="44" height="42" fill="#d97a36"/><ellipse cx="84" cy="20" rx="14" ry="10" fill="#e8a060"/><ellipse cx="50" cy="10" rx="18" ry="10" fill="#6b3b21"/><ellipse cx="52" cy="22" rx="13" ry="13" fill="#e9b293"/><path d="M26 44 Q52 26 100 36 V70 H26Z" fill="#3149c3"/><ellipse cx="14" cy="58" rx="14" ry="16" fill="#b22222"/><path d="M4 52 Q14 48 24 56 M4 62 Q14 58 26 66" fill="none" stroke="#f0e6e6" stroke-width="3" stroke-linecap="round"/><ellipse cx="12" cy="80" rx="10" ry="8" fill="#e2701e"/><ellipse cx="40" cy="46" rx="8" ry="6" fill="#3b2418"/><ellipse cx="40" cy="54" rx="6" ry="7" fill="#e3ac90"/><path d="M30 64 Q40 58 52 66 V86 H30Z" fill="#3a4ad0"/><ellipse cx="68" cy="40" rx="9" ry="6" fill="#6a3d23"/><ellipse cx="68" cy="48" rx="6" ry="7" fill="#e5b094"/><path d="M54 60 Q68 52 82 62 V84 H54Z" fill="#7a6151"/><rect x="66" y="58" width="5" height="14" fill="#e9e4e0"/><ellipse cx="88" cy="56" rx="6" ry="7" fill="#a3482a"/><ellipse cx="88" cy="60" rx="4" ry="5" fill="#e8b89e"/><path d="M78 72 Q88 64 98 72 V86 H78Z" fill="#7fb2e4"/><rect x="-12" y="78" width="124" height="34" fill="#19204f"/><ellipse cx="10" cy="92" rx="14" ry="8" fill="#a52323"/><path d="M16 85.5 H86" stroke="#eef0f6" stroke-width="7" stroke-dasharray="7 1.5" opacity="0.92" fill="none"/><path d="M30 94.5 H74" stroke="#e9ecf4" stroke-width="7" stroke-dasharray="7 1.5" opacity="0.92" fill="none"/><ellipse cx="90" cy="90" rx="8" ry="6" fill="#3a6ad0"/></g></svg></div>
<div class="t b k hv" style="left:630.80px;top:534.17px;font-size:13.2px;line-height:15.5px;">Back to the Quarterback</div>
<div class="t k c" style="left:806.40px;top:533.09px;font-size:11.7px;line-height:11.7px;width:60px;text-align:center;">1472</div>
<div class="t b k c" style="left:518.50px;top:587.86px;font-size:10.8px;line-height:10.8px;width:40px;text-align:center;">18</div>
<div class="th" id="th18" style="left:563.1px;top:575.1px;width:35.10px;height:34.80px;"><svg viewBox="0 0 100 100" preserveAspectRatio="none"><rect width="100" height="100" fill="#d98a3a"/><g filter="url(#tb)"><rect x="-12" y="-12" width="124" height="124" fill="#dc8d3c"/><ellipse cx="8" cy="10" rx="12" ry="10" fill="#eebd76"/><ellipse cx="8" cy="52" rx="20" ry="30" fill="#f0b783"/><ellipse cx="94" cy="12" rx="10" ry="10" fill="#d9a766"/><path d="M16 0 H94 L92 12 Q74 18 62 30 Q50 20 36 16 Q24 8 16 0Z" fill="#2a1009"/><ellipse cx="40" cy="27" rx="14" ry="12" fill="#e39a62"/><ellipse cx="28" cy="16" rx="8" ry="6" fill="#e9aa70"/><ellipse cx="57" cy="44" rx="13" ry="13" fill="#f2cba2"/><ellipse cx="47" cy="38" rx="6" ry="4" fill="#bf7f4d"/><ellipse cx="32" cy="56" rx="13" ry="19" fill="#e29b60"/><path d="M100 24 Q78 26 67 46 Q69 62 84 70 L100 76Z" fill="#26110b"/><ellipse cx="73" cy="64" rx="8" ry="5" fill="#e2a070"/><rect x="-12" y="72" width="124" height="40" fill="#dd8129"/><path d="M10 79.0 H90" stroke="#fbe8c2" stroke-width="6" stroke-dasharray="6 3" opacity="0.8" fill="none"/><path d="M8 90.0 H94" stroke="#fbe4b6" stroke-width="8" stroke-dasharray="7 3" opacity="0.85" fill="none"/><rect x="44" y="65" width="12" height="3" fill="#d22a2a"/><ellipse cx="95" cy="94" rx="6" ry="6" fill="#331710"/><ellipse cx="78" cy="79" rx="4" ry="4" fill="#fff0c8" opacity="0.8"/></g></svg></div>
<div class="t b k hv" style="left:630.80px;top:585.92px;font-size:13.2px;line-height:15.5px;">TOMBER DANS MON JEU</div>
<div class="t k c" style="left:806.40px;top:587.49px;font-size:11.7px;line-height:11.7px;width:60px;text-align:center;">1366</div>
<div class="t b k c" style="left:518.50px;top:642.36px;font-size:10.8px;line-height:10.8px;width:40px;text-align:center;">19</div>
<div class="th" id="th19" style="left:563.1px;top:631.9px;width:35.10px;height:33.70px;"><svg viewBox="0 0 100 100" preserveAspectRatio="none"><rect width="100" height="100" fill="#2a4a2c"/><g filter="url(#tb)"><rect x="-12" y="-12" width="124" height="18" fill="#10140e"/><rect x="14" y="6" width="24" height="14" fill="#b09243"/><rect x="18" y="9" width="16" height="8" fill="#59503a"/><rect x="46" y="4" width="28" height="26" fill="#b39a4b"/><rect x="50" y="8" width="20" height="18" fill="#6f7a78"/><rect x="84" y="8" width="14" height="18" fill="#9d8a42"/><rect x="4" y="14" width="6" height="38" fill="#a48c44"/><rect x="18" y="28" width="14" height="12" fill="#a8924a"/><ellipse cx="74" cy="16" rx="8" ry="6" fill="#1d1a18"/><ellipse cx="74" cy="23" rx="6" ry="7" fill="#e2b49c"/><path d="M58 34 Q74 26 92 36 L94 70 H60Z" fill="#ecebeb"/><path d="M64 36 Q74 32 86 36 L84 68 H66Z" fill="#17181a"/><ellipse cx="40" cy="30" rx="8" ry="5" fill="#141414"/><ellipse cx="40" cy="38" rx="6" ry="7" fill="#d7a78f"/><path d="M14 58 Q38 40 54 56 L52 80 H14Z" fill="#161616"/><ellipse cx="24" cy="52" rx="9" ry="9" fill="#2a1a18"/><ellipse cx="26" cy="58" rx="5" ry="6" fill="#e6bba6"/><path d="M10 70 Q26 62 44 72 V86 H10Z" fill="#dba4a4"/><ellipse cx="78" cy="56" rx="8" ry="8" fill="#2c1c18"/><ellipse cx="78" cy="62" rx="5" ry="6" fill="#e8c0ac"/><path d="M62 74 Q78 66 94 76 V88 H62Z" fill="#c9b9aa"/><rect x="-12" y="82" width="124" height="30" fill="#19130f"/><rect x="8" y="80" width="44" height="4" fill="#cfc5b4" opacity="0.7"/><path d="M56 82 Q70 74 86 82" fill="none" stroke="#c79c3a" stroke-width="4" stroke-linecap="round"/><path d="M6 89.5 H94" stroke="#efebe6" stroke-width="7" stroke-dasharray="7 1.5" opacity="0.94" fill="none"/><rect x="-12" y="96" width="124" height="16" fill="#0e0a08"/></g></svg></div>
<div class="t b k hv" style="left:630.80px;top:629.05px;font-size:13.2px;line-height:15.75px;">Trapped in a Novel with My<br>Bestie</div>
<div class="t k c" style="left:806.40px;top:642.09px;font-size:11.7px;line-height:11.7px;width:60px;text-align:center;">1300</div>
<div class="t b k c" style="left:518.50px;top:695.36px;font-size:10.8px;line-height:10.8px;width:40px;text-align:center;">20</div>
<div class="th" id="th20" style="left:563.1px;top:683.9px;width:35.90px;height:30.00px;"><svg viewBox="0 0 100 100" preserveAspectRatio="none"><rect width="100" height="100" fill="#f5f5f7"/><g filter="url(#tb)"><path d="M0 0 H100 V34 L0 50Z" fill="#1b6fe0"/><path d="M0 0 H30 V45 L0 50Z" fill="#1fb0f0"/><path d="M70 0 H100 V34 L70 39Z" fill="#1b44c6"/><ellipse cx="38" cy="18" rx="16" ry="15" fill="#5b2a21"/><ellipse cx="34" cy="22" rx="8" ry="10" fill="#e9b2a2"/><path d="M16 46 Q34 32 58 38 L58 42 L14 50Z" fill="#f1e9ee"/><ellipse cx="24" cy="40" rx="6" ry="5" fill="#e5a898"/><path d="M0 50 L100 34 V48 L0 64Z" fill="#f7f7f9"/><path d="M14 54 L52 47" fill="none" stroke="#3a7fd8" stroke-width="4" stroke-linecap="round" opacity="0.9"/><path d="M40 58 L84 50" fill="none" stroke="#e0303a" stroke-width="4" stroke-linecap="round" opacity="0.9"/><path d="M0 64 L100 48 V100 H0Z" fill="#c01212"/><path d="M0 64 L30 59 V100 H0Z" fill="#8b0d0d"/><path d="M78 52 L100 48 V100 H78Z" fill="#e61a1a"/><ellipse cx="62" cy="66" rx="12" ry="9" fill="#2b1c1a"/><ellipse cx="68" cy="72" rx="8" ry="9" fill="#d9a283"/><path d="M40 100 Q56 82 80 92 V100Z" fill="#2a2230"/><path d="M76 92 L90 72" fill="none" stroke="#5a5a60" stroke-width="5" stroke-linecap="round"/><ellipse cx="86" cy="94" rx="8" ry="6" fill="#e0aa88"/></g></svg></div>
<div class="t b k hv" style="left:630.80px;top:681.07px;font-size:13.2px;line-height:15.5px;">The Bodyguard I Cant<br>Escape</div>
<div class="t k c" style="left:806.40px;top:695.49px;font-size:11.7px;line-height:11.7px;width:60px;text-align:center;">1271</div>
<svg class="ic" role="img" aria-label="두번째 삶, 다시 사랑" style="left:620px;top:306px;width:130px;height:32px;overflow:visible" viewBox="0 0 130 32"><title>두번째 삶, 다시 사랑</title><text x="9.8" y="20.9" font-family="'Liberation Sans','Noto Sans CJK KR',sans-serif" font-size="11.8" fill="#111" textLength="106" lengthAdjust="spacing">두번째 삶, 다시 사랑</text></svg>

<svg width="0" height="0" style="position:absolute" aria-hidden="true">
<defs>
 <filter id="tb" x="-5%" y="-5%" width="110%" height="110%"><feGaussianBlur stdDeviation="2.4"/></filter>
 <linearGradient id="gM" x1="0" y1="0" x2="1" y2="1"><stop offset="0" stop-color="#ff9500"/><stop offset=".38" stop-color="#ff2a1a"/><stop offset=".7" stop-color="#fa1650"/><stop offset="1" stop-color="#e51aa0"/></linearGradient>
 <linearGradient id="gDB" x1="0" y1="1" x2="1" y2="0"><stop offset="0" stop-color="#ff2a10"/><stop offset=".45" stop-color="#ff1f8f"/><stop offset="1" stop-color="#c822ff"/></linearGradient>
 <linearGradient id="gDBo" x1="0" y1="0" x2="1" y2="1"><stop offset=".55" stop-color="#ffa51e" stop-opacity="0"/><stop offset="1" stop-color="#ffa51e"/></linearGradient>
 <linearGradient id="gF" x1="0" y1="0" x2="1" y2="1"><stop offset="0" stop-color="#ffe55a"/><stop offset=".5" stop-color="#f2b90f"/><stop offset="1" stop-color="#ffd93a"/></linearGradient>
 <linearGradient id="gR" x1="0" y1="0" x2="1" y2="1"><stop offset="0" stop-color="#f2168f"/><stop offset=".5" stop-color="#ff1a3c"/><stop offset="1" stop-color="#ff5a0a"/></linearGradient>
 <linearGradient id="gCM" x1="0" y1="0" x2="0" y2="1"><stop offset="0" stop-color="#fb6f85"/><stop offset="1" stop-color="#f5475b"/></linearGradient>
 <linearGradient id="gA" x1=".25" y1="0" x2=".75" y2="1"><stop offset="0" stop-color="#ff9a1a"/><stop offset=".4" stop-color="#ff4638"/><stop offset=".72" stop-color="#f5128a"/><stop offset="1" stop-color="#dc10d8"/></linearGradient>
 <linearGradient id="gTV" x1="0" y1="0" x2="1" y2="1"><stop offset="0" stop-color="#ef1a8c"/><stop offset=".55" stop-color="#f9103f"/><stop offset="1" stop-color="#ff6418"/></linearGradient>
 <linearGradient id="gBub" x1="0" y1="0" x2="1" y2="1"><stop offset="0" stop-color="#fb7a8e"/><stop offset=".5" stop-color="#e95fd2"/><stop offset="1" stop-color="#a93cf5"/></linearGradient>
 <linearGradient id="gDR" x1="0" y1="1" x2="1" y2="0"><stop offset="0" stop-color="#ff0a50"/><stop offset=".6" stop-color="#ff1844"/><stop offset="1" stop-color="#ff9a18"/></linearGradient>
 <linearGradient id="gK" x1="0" y1="0" x2="1" y2="0"><stop offset="0" stop-color="#a678f2"/><stop offset=".55" stop-color="#f2a0c8"/><stop offset="1" stop-color="#f2c24a"/></linearGradient>
 <linearGradient id="gPbg" x1="0" y1="0" x2="0" y2="1"><stop offset="0" stop-color="#12030c"/><stop offset="1" stop-color="#4d0a12"/></linearGradient>
 <linearGradient id="gP" x1="0" y1=".6" x2="1" y2=".4"><stop offset="0" stop-color="#ffd9de"/><stop offset=".35" stop-color="#ffb0c8"/><stop offset="1" stop-color="#ff7fb4"/></linearGradient>
 <linearGradient id="gPy" x1="0" y1="0" x2="0" y2="1"><stop offset=".05" stop-color="#ffe58a"/><stop offset=".42" stop-color="#ffe58a" stop-opacity="0"/></linearGradient>
 <radialGradient id="gS1" cx=".5" cy=".5" r=".6"><stop offset="0" stop-color="#d81a6c"/><stop offset="1" stop-color="#6f0832"/></radialGradient>
 <linearGradient id="gS3" x1="0" y1="0" x2="0" y2="1"><stop offset="0" stop-color="#1f6cff"/><stop offset=".6" stop-color="#1aa0f0"/><stop offset="1" stop-color="#22d34a"/></linearGradient>
 <linearGradient id="gS5" x1="0" y1="0" x2="0" y2="1"><stop offset="0" stop-color="#e33aa2"/><stop offset="1" stop-color="#ff4420"/></linearGradient>
 <linearGradient id="gS6" x1="0" y1="0" x2="1" y2="1"><stop offset="0" stop-color="#ff7a18"/><stop offset="1" stop-color="#f0141e"/></linearGradient>
 <linearGradient id="gS8" x1="0" y1="0" x2="1" y2="1"><stop offset="0" stop-color="#ff6a3a"/><stop offset="1" stop-color="#e020c0"/></linearGradient>
 <linearGradient id="gLg" x1="0" y1="0" x2="1" y2="1"><stop offset=".3" stop-color="#7df2d2"/><stop offset="1" stop-color="#45b2e6"/></linearGradient>

 <!-- 1: M bow -->
 <symbol id="iM" viewBox="0 0 100 100"><rect width="100" height="100" rx="14" fill="url(#gM)"/>
  <path d="M27 23 Q32 18 38 22 L55 44 L69 22 Q74 17 80 19 Q90 22 88 34 L84 58 Q80 76 68 78 Q62 78 54 65 L40 78 Q30 86 20 80 Q12 74 13 62 L18 38 Q21 27 27 23Z" fill="#ffe6ee"/>
  <path d="M28 32 C24 42 21 56 23 70 M78 28 C80 40 77 56 72 68" stroke="#ffbfd0" stroke-width="3.500" fill="none" stroke-linecap="round"/>
  <path d="M38 34 L54 56 L66 36" stroke="#fff" stroke-width="5" fill="none" opacity=".7"/></symbol>

 <!-- 3: xmas D -->
 <symbol id="iDB" viewBox="0 0 100 100"><rect width="100" height="100" rx="17" fill="url(#gDB)"/><rect width="100" height="100" rx="17" fill="url(#gDBo)"/>
  <path d="M0 88 H100 V86 Q100 100 84 100 H16 Q0 100 0 86Z" fill="#fff4fa"/>
  <path d="M28 22 Q28 16 36 16 H52 Q74 18 74 50 Q74 84 50 86 H36 Q28 86 28 78Z" fill="#fff"/>
  <path d="M44 38 L64 51 L44 64Z" fill="#e81fa2"/>
  <path d="M12 60 L20 86 H3Z" fill="#3cc43a"/>
  <circle cx="78" cy="70" r="11" fill="#fff"/><path d="M64 84 Q78 70 94 84 V96 Q80 102 64 96Z" fill="#e8141e"/><path d="M68 60 Q78 46 90 62Z" fill="#e8141e"/><circle cx="78" cy="68" r="5" fill="#ffd2b8"/>
  <circle cx="12" cy="50" r="3" fill="#fff"/><circle cx="86" cy="40" r="3" fill="#fff"/><circle cx="16" cy="14" r="2" fill="#fff"/></symbol>

 <!-- 4: gold F -->
 <symbol id="iF" viewBox="0 0 100 100"><rect width="100" height="100" fill="#000"/>
  <path d="M34 10 H86 L80 28 H56 L52 40 H74 L68 58 H46 L34 88 L16 92 Z" fill="url(#gF)"/>
  <path d="M38 14 H80 L78 20 H44 L24 84 L20 86Z" fill="#fff3a0" opacity=".7"/></symbol>

 <!-- 5: R -->
 <symbol id="iR" viewBox="0 0 100 100">
  <path d="M16 0 H62 L100 36 V84 Q100 100 84 100 H16 Q0 100 0 84 V16 Q0 0 16 0Z" fill="url(#gR)"/>
  <path d="M22 22 H56 Q76 24 76 42 Q76 56 62 60 L78 80 H58 L44 62 L24 82 Z" fill="#fff"/>
  <path d="M42 32 L60 42 L42 53Z" fill="#f8205a"/>
  <circle cx="86" cy="8" r="4" fill="#f9a8c4"/><circle cx="92" cy="17" r="3" fill="#f9a8c4"/></symbol>

 <!-- 6: coral M -->
 <symbol id="iCM" viewBox="0 0 100 100"><rect width="100" height="100" rx="19" fill="url(#gCM)"/>
  <path d="M30 18 Q18 22 17 50 Q18 80 34 84 Q50 84 76 62 Q86 52 78 42 Q56 20 30 18Z" fill="#fff"/>
  <path d="M30 62 L36 36 L46 52 L56 36 L64 60" stroke="#f6566c" stroke-width="7" fill="none" stroke-linejoin="round" stroke-linecap="round"/></symbol>

 <!-- 7: orange A -->
 <symbol id="iA" viewBox="0 0 100 100" preserveAspectRatio="none"><rect width="100" height="100" fill="url(#gA)"/>
  <path d="M44 14 H58 L76 68 H26Z" fill="#fff"/><path d="M51 36 Q60 50 56 57 Q51 62 46 57 Q42 50 51 36Z" fill="#f72c6e"/>
  <path d="M26 78 Q50 84 76 76 V86 Q50 92 26 88Z" fill="#fff"/></symbol>

 <!-- 8: TV heart -->
 <symbol id="iTV" viewBox="0 0 100 100" preserveAspectRatio="none"><rect width="100" height="100" rx="17" fill="url(#gTV)"/>
  <rect x="15" y="20" width="70" height="56" rx="14" fill="none" stroke="#fff" stroke-width="9"/>
  <path d="M30 76 L34 86 L40 76Z M62 76 L66 86 L72 76Z" fill="#fff"/>
  <path d="M50 62 Q26 44 32 34 Q40 26 50 38 Q60 26 68 34 Q74 44 50 62Z" fill="#fff"/></symbol>

 <!-- 9: purple cam -->
 <symbol id="iCam" viewBox="0 0 100 100" preserveAspectRatio="none"><rect width="100" height="100" rx="17" fill="#9a12ff"/>
  <path d="M21 22 H70 Q78 22 78 30 V34 L90 34 V64 L78 64 V70 Q78 78 70 78 H21 Q13 78 13 70 V30 Q13 22 21 22Z" fill="#fff"/>
  <path d="M30 34 L58 50 L30 66Z" fill="#9a12ff"/></symbol>

 <!-- 10: yellow penguin -->
 <symbol id="iY" viewBox="0 0 100 100" preserveAspectRatio="none"><path d="M0 3 Q10 -2 20 2 Q32 -3 44 2 Q58 -3 70 2 Q84 -3 100 3 V100 H0Z" fill="#ffd900"/>
  <path d="M0 93 Q30 86 60 93 Q80 97 100 92 V100 H0Z" fill="#fffbe8"/>
  <path d="M32 26 Q48 8 64 12 Q58 22 60 34 L56 96 Q44 100 33 94Z" fill="#111"/>
  <path d="M44 30 Q58 22 68 32 Q74 50 64 62 Q56 66 54 70 L54 92 L43 92Z" fill="#fff"/>
  <path d="M57 42 L67 54 L57 58Z" fill="#111"/>
  <circle cx="26" cy="25" r="7.500" fill="#ee2a1a"/>
  <path d="M80 72 L88 93 H72Z M70 80 L76 93 H64Z" fill="#7cc65a"/>
  <circle cx="12" cy="26" r="3" fill="#ffef8a"/><circle cx="84" cy="16" r="3" fill="#ffef8a"/></symbol>

 <!-- 11: Kalos -->
 <symbol id="iK" viewBox="0 0 100 100" preserveAspectRatio="none"><rect width="100" height="100" rx="27" fill="#000"/>
  <text x="50" y="61" text-anchor="middle" font-family="Liberation Sans, sans-serif" font-weight="700" font-style="italic" font-size="33" textLength="82" lengthAdjust="spacingAndGlyphs" fill="url(#gK)">Kalos</text></symbol>

 <!-- 12: bubble -->
 <symbol id="iB" viewBox="0 0 100 100" preserveAspectRatio="none"><rect width="100" height="100" rx="27" fill="url(#gBub)"/>
  <path d="M32 20 H68 Q86 20 86 38 V56 Q86 74 68 74 H60" fill="none" stroke="#fff" stroke-width="8" stroke-linecap="round"/>
  <path d="M32 20 Q14 20 14 38 V56 Q14 74 32 74 L30 86 L46 74" fill="none" stroke="#fff" stroke-width="8" stroke-linejoin="round" stroke-linecap="round"/>
  <path d="M43 36 L60 47 L43 58Z" fill="#fff"/></symbol>

 <!-- 13: red D -->
 <symbol id="iD" viewBox="0 0 100 100" preserveAspectRatio="none"><rect width="100" height="100" fill="url(#gDR)"/>
  <path d="M28 14 H50 Q88 18 88 52 Q88 86 50 90 H28 Q16 90 16 78 V26 Q16 14 28 14Z" fill="#ffe3ea"/>
  <path d="M30 20 H50 Q80 24 80 52 Q80 80 50 84 H30 Q22 84 22 76 V28 Q22 20 30 20Z" fill="#fff"/>
  <path d="M36 30 L72 51 L36 72Z" fill="#ff1448"/></symbol>

 <!-- 14: dark P -->
 <symbol id="iP" viewBox="0 0 100 100" preserveAspectRatio="none"><rect width="100" height="100" fill="url(#gPbg)"/>
  <path d="M70 0 H100 V28Z" fill="#ffe9a8"/>
  <path d="M14 84 V44 Q14 14 46 14 Q86 14 86 46 Q86 80 48 82 L44 82 V64 Q66 66 68 47 Q66 30 48 30 Q34 32 34 46 V84Z" fill="url(#gP)"/>
  <path d="M14 84 V44 Q14 14 46 14 Q86 14 86 46 Q86 80 48 82 L44 82 V64 Q66 66 68 47 Q66 30 48 30 Q34 32 34 46 V84Z" fill="url(#gPy)"/>
  <path d="M48 40 L62 48 L48 58Z" fill="#ffb3cf"/>
  <path d="M84 6 L87 13 L94 15 L87 18 L84 25 L81 18 L74 15 L81 13Z" fill="#f7cc5c"/></symbol>

 <!-- 15: blue ID -->
 <symbol id="iID" viewBox="0 0 100 100" preserveAspectRatio="none"><rect width="100" height="100" fill="#3e3efc"/><rect x="1.500" y="1.500" width="97" height="97" fill="none" stroke="#1a1af0" stroke-width="3"/>
  <path d="M22 15 H50 Q88 18 88 50 Q88 82 50 85 H22 Q13 85 13 76 V24 Q13 15 22 15Z" fill="#fff" stroke="#0a0a18" stroke-width="5"/>
  <path d="M29 16 V84" stroke="#0a0a18" stroke-width="4"/>
  <path d="M60 62 Q42 46 48 38 Q54 32 60 40 Q66 32 72 38 Q78 46 60 62Z" fill="#000"/></symbol>

 <!-- small row-2 icons -->
 <symbol id="s1" viewBox="0 0 100 100" preserveAspectRatio="none"><rect width="100" height="100" fill="url(#gS1)"/><path d="M36 28 Q36 22 42 26 L72 46 Q76 50 72 54 L42 74 Q36 78 36 72Z" fill="#fff"/></symbol>
 <symbol id="s2" viewBox="0 0 100 100" preserveAspectRatio="none"><rect width="100" height="100" fill="#ff0a46"/><path d="M22 22 Q50 8 80 22 Q90 30 84 50 Q74 82 52 88 Q28 80 18 48 Q14 30 22 22Z" fill="#fff"/><path d="M52 66 Q30 46 38 38 Q46 32 52 42 Q60 32 68 38 Q74 46 52 66Z" fill="#ff0a46"/></symbol>
 <symbol id="s3" viewBox="0 0 100 100" preserveAspectRatio="none"><path d="M24 22 L24 78 L78 50Z" fill="url(#gS3)" stroke="url(#gS3)" stroke-width="30" stroke-linejoin="round"/><path d="M30 74 Q22 40 46 36 Q66 40 60 58 Q52 68 42 60 Q38 52 48 50" fill="none" stroke="#fff" stroke-width="9" stroke-linecap="round"/></symbol>
 <symbol id="s5" viewBox="0 0 100 100" preserveAspectRatio="none"><path d="M20 0 H72 L100 28 V80 Q100 100 80 100 H20 Q0 100 0 80 V20 Q0 0 20 0Z" fill="url(#gS5)"/><path d="M24 26 H42 V44 H60 V26 H78 V84 H60 V62 H42 V84 H24Z" fill="#fff"/></symbol>
 <symbol id="s6" viewBox="0 0 100 100" preserveAspectRatio="none"><rect width="100" height="100" fill="#fff"/><path d="M24 8 Q18 4 18 14 V64 Q18 74 28 68 L84 40 Q92 36 84 30Z" fill="url(#gS6)"/><path d="M40 24 L62 37 L40 50Z" fill="#fff"/><path d="M0 76 Q50 58 100 76 V100 H0Z" fill="#e8141e"/><rect x="14" y="84" width="72" height="8" fill="#ff9aa0"/></symbol>
 <symbol id="s8" viewBox="0 0 100 100" preserveAspectRatio="none"><rect width="100" height="100" fill="#140a1a"/><path d="M30 18 Q78 14 80 52 Q78 88 34 84" fill="none" stroke="url(#gS8)" stroke-width="10" stroke-linecap="round"/><path d="M32 34 Q58 36 58 52 Q56 68 34 68" fill="none" stroke="url(#gS8)" stroke-width="9" stroke-linecap="round"/><path d="M30 44 L44 52 L30 60Z" fill="#ff5a5a"/></symbol>
</defs></svg>

<svg class="ic" style="left:433.10px;top:204.50px;width:18.50px;height:18.50px" viewBox="0 0 100 100" preserveAspectRatio="none"><use href="#iM" width="100" height="100"/></svg>
<svg class="ic" style="left:433.90px;top:258.90px;width:14.00px;height:12.80px" viewBox="0 0 100 100" preserveAspectRatio="none"><use href="#s1" width="100" height="100"/></svg>
<svg class="ic" style="left:447.90px;top:258.90px;width:13.50px;height:12.80px" viewBox="0 0 100 100" preserveAspectRatio="none"><use href="#s2" width="100" height="100"/></svg>
<svg class="ic" style="left:463.30px;top:259.60px;width:9.80px;height:11.60px" viewBox="0 0 100 100" preserveAspectRatio="none"><use href="#s3" width="100" height="100"/></svg>
<svg class="ic" style="left:475.10px;top:258.90px;width:12.70px;height:12.80px" viewBox="0 0 100 100" preserveAspectRatio="none"><use href="#iTV" width="100" height="100"/></svg>
<svg class="ic" style="left:433.80px;top:274.40px;width:14.40px;height:13.90px" viewBox="0 0 100 100" preserveAspectRatio="none"><use href="#s5" width="100" height="100"/></svg>
<svg class="ic" style="left:448.50px;top:274.40px;width:13.00px;height:13.90px" viewBox="0 0 100 100" preserveAspectRatio="none"><use href="#s6" width="100" height="100"/></svg>
<svg class="ic" style="left:462.10px;top:274.40px;width:13.00px;height:13.90px" viewBox="0 0 100 100" preserveAspectRatio="none"><use href="#iCam" width="100" height="100"/></svg>
<svg class="ic" style="left:475.10px;top:274.40px;width:12.70px;height:13.90px" viewBox="0 0 100 100" preserveAspectRatio="none"><use href="#s8" width="100" height="100"/></svg>
<svg class="ic" style="left:433.80px;top:318.60px;width:18.40px;height:18.20px" viewBox="0 0 100 100" preserveAspectRatio="none"><use href="#iDB" width="100" height="100"/></svg>
<svg class="ic" style="left:454.90px;top:318.80px;width:18.10px;height:18.00px" viewBox="0 0 100 100" preserveAspectRatio="none"><use href="#iF" width="100" height="100"/></svg>
<svg class="ic" style="left:433.00px;top:367.80px;width:18.40px;height:18.20px" viewBox="0 0 100 100" preserveAspectRatio="none"><use href="#iDB" width="100" height="100"/></svg>
<svg class="ic" style="left:433.90px;top:422.10px;width:18.10px;height:18.60px" viewBox="0 0 100 100" preserveAspectRatio="none"><use href="#iR" width="100" height="100"/></svg>
<svg class="ic" style="left:433.20px;top:479.10px;width:17.60px;height:16.40px" viewBox="0 0 100 100" preserveAspectRatio="none"><use href="#iCM" width="100" height="100"/></svg>
<svg class="ic" style="left:455.10px;top:479.00px;width:17.90px;height:15.70px" viewBox="0 0 100 100" preserveAspectRatio="none"><use href="#iA" width="100" height="100"/></svg>
<svg class="ic" style="left:433.00px;top:525.80px;width:19.00px;height:16.80px" viewBox="0 0 100 100" preserveAspectRatio="none"><use href="#iTV" width="100" height="100"/></svg>
<svg class="ic" style="left:454.90px;top:525.90px;width:17.50px;height:16.60px" viewBox="0 0 100 100" preserveAspectRatio="none"><use href="#iCam" width="100" height="100"/></svg>
<svg class="ic" style="left:433.80px;top:576.50px;width:18.20px;height:18.50px" viewBox="0 0 100 100" preserveAspectRatio="none"><use href="#iY" width="100" height="100"/></svg>
<svg class="ic" style="left:433.10px;top:634.30px;width:20.10px;height:20.60px" viewBox="0 0 100 100" preserveAspectRatio="none"><use href="#iK" width="100" height="100"/></svg>
<svg class="ic" style="left:454.30px;top:634.30px;width:20.50px;height:20.60px" viewBox="0 0 100 100" preserveAspectRatio="none"><use href="#iB" width="100" height="100"/></svg>
<svg class="ic" style="left:477.20px;top:634.30px;width:19.40px;height:20.60px" viewBox="0 0 100 100" preserveAspectRatio="none"><use href="#iD" width="100" height="100"/></svg>
<svg class="ic" style="left:433.10px;top:683.90px;width:20.10px;height:21.00px" viewBox="0 0 100 100" preserveAspectRatio="none"><use href="#iK" width="100" height="100"/></svg>
<svg class="ic" style="left:454.30px;top:683.90px;width:20.50px;height:21.00px" viewBox="0 0 100 100" preserveAspectRatio="none"><use href="#iB" width="100" height="100"/></svg>
<svg class="ic" style="left:477.20px;top:683.90px;width:19.40px;height:21.00px" viewBox="0 0 100 100" preserveAspectRatio="none"><use href="#iD" width="100" height="100"/></svg>
<svg class="ic" style="left:891.00px;top:204.40px;width:18.30px;height:18.60px" viewBox="0 0 100 100" preserveAspectRatio="none"><use href="#iM" width="100" height="100"/></svg>
<svg class="ic" style="left:891.00px;top:258.80px;width:18.30px;height:18.60px" viewBox="0 0 100 100" preserveAspectRatio="none"><use href="#iR" width="100" height="100"/></svg>
<svg class="ic" style="left:891.00px;top:314.00px;width:18.30px;height:18.00px" viewBox="0 0 100 100" preserveAspectRatio="none"><use href="#iDB" width="100" height="100"/></svg>
<svg class="ic" style="left:891.00px;top:368.00px;width:18.30px;height:18.20px" viewBox="0 0 100 100" preserveAspectRatio="none"><use href="#iM" width="100" height="100"/></svg>
<svg class="ic" style="left:891.10px;top:422.90px;width:19.00px;height:17.80px" viewBox="0 0 100 100" preserveAspectRatio="none"><use href="#iP" width="100" height="100"/></svg>
<svg class="ic" style="left:890.40px;top:474.20px;width:19.90px;height:20.80px" viewBox="0 0 100 100" preserveAspectRatio="none"><use href="#iK" width="100" height="100"/></svg>
<svg class="ic" style="left:910.90px;top:474.20px;width:20.50px;height:20.80px" viewBox="0 0 100 100" preserveAspectRatio="none"><use href="#iB" width="100" height="100"/></svg>
<svg class="ic" style="left:931.80px;top:474.20px;width:18.80px;height:20.80px" viewBox="0 0 100 100" preserveAspectRatio="none"><use href="#iD" width="100" height="100"/></svg>
<svg class="ic" style="left:891.00px;top:532.20px;width:18.30px;height:18.40px" viewBox="0 0 100 100" preserveAspectRatio="none"><use href="#iY" width="100" height="100"/></svg>
<svg class="ic" style="left:891.00px;top:590.10px;width:18.30px;height:18.40px" viewBox="0 0 100 100" preserveAspectRatio="none"><use href="#iM" width="100" height="100"/></svg>
<svg class="ic" style="left:891.00px;top:637.80px;width:18.30px;height:20.20px" viewBox="0 0 100 100" preserveAspectRatio="none"><use href="#iA" width="100" height="100"/></svg>
<svg class="ic" style="left:891.10px;top:685.50px;width:18.00px;height:19.20px" viewBox="0 0 100 100" preserveAspectRatio="none"><use href="#iID" width="100" height="100"/></svg>
<svg class="ic" style="left:66px;top:94px;width:30px;height:30px" viewBox="66 94 30 30">
 <rect x="74.1" y="96.7" width="2.1" height="4.8" rx="1" fill="#fff"/><rect x="82.7" y="96.7" width="2.1" height="4.8" rx="1" fill="#fff"/>
 <path d="M72 98.9 H73.2 V101 Q73.3 102.6 75.15 102.6 Q77 102.6 77.1 101 V98.9 H81.8 V101 Q81.9 102.6 83.75 102.6 Q85.6 102.6 85.7 101 V98.9 H87 Q88.1 98.9 88.1 100 V117.8 Q88.1 118.9 87 118.9 H72 Q70.9 118.9 70.9 117.8 V100 Q70.9 98.9 72 98.9Z M73.1 104 V116.7 H85.9 V104Z" fill="#fff" fill-rule="evenodd"/>
 <g fill="#fff"><rect x="78.1" y="105.5" width="2.4" height="2.4" rx=".4"/><rect x="82.1" y="105.5" width="2.4" height="2.4" rx=".4"/>
 <rect x="74.2" y="109.3" width="2.4" height="2.4" rx=".4"/><rect x="78.1" y="109.3" width="2.4" height="2.4" rx=".4"/><rect x="82.1" y="109.3" width="2.4" height="2.4" rx=".4"/>
 <rect x="74.2" y="113.0" width="2.4" height="2.4" rx=".4"/><rect x="78.1" y="113.0" width="2.4" height="2.4" rx=".4"/></g>
 <circle cx="87.2" cy="117.3" r="5.1" fill="#a692e4"/><circle cx="87.2" cy="117.3" r="4.1" fill="#fff"/>
 <path d="M85.2 117.3 L86.7 118.8 L89.4 116" fill="none" stroke="#a692e4" stroke-width="1.1" stroke-linecap="round" stroke-linejoin="round"/>
</svg>
<svg class="ic" style="left:832px;top:30px;width:36px;height:36px" viewBox="832 30 36 36">
 <path d="M848.2 34.9 Q849 34.9 849 35.9 V46 Q849 46.9 848 46.9 H838 Q836.9 46.9 836.9 45.8 Q837.6 36 848.2 34.9Z" fill="#bf66d6"/>
 <path d="M851 34.9 Q850.1 34.9 850.1 35.9 V46 Q850.1 46.9 851.1 46.9 H861.5 Q862.7 46.9 862.6 45.8 Q861.8 36 851 34.9Z" fill="#3591f8"/>
 <path d="M838 48.8 H848 Q849 48.8 849 49.8 V59.8 Q849 60.9 848 60.8 Q837.6 59.8 836.9 49.9 Q836.9 48.8 838 48.8Z" fill="#d94f92"/>
 <path d="M861.6 48.8 Q862.6 48.8 862.6 49.8 V59.8 Q862.6 60.8 861.6 60.8 H851.2 Q850.1 60.8 850.1 59.7 Q851 49.8 861.6 48.8Z" fill="url(#gLg)"/>
</svg>
</div>
</body></html>
